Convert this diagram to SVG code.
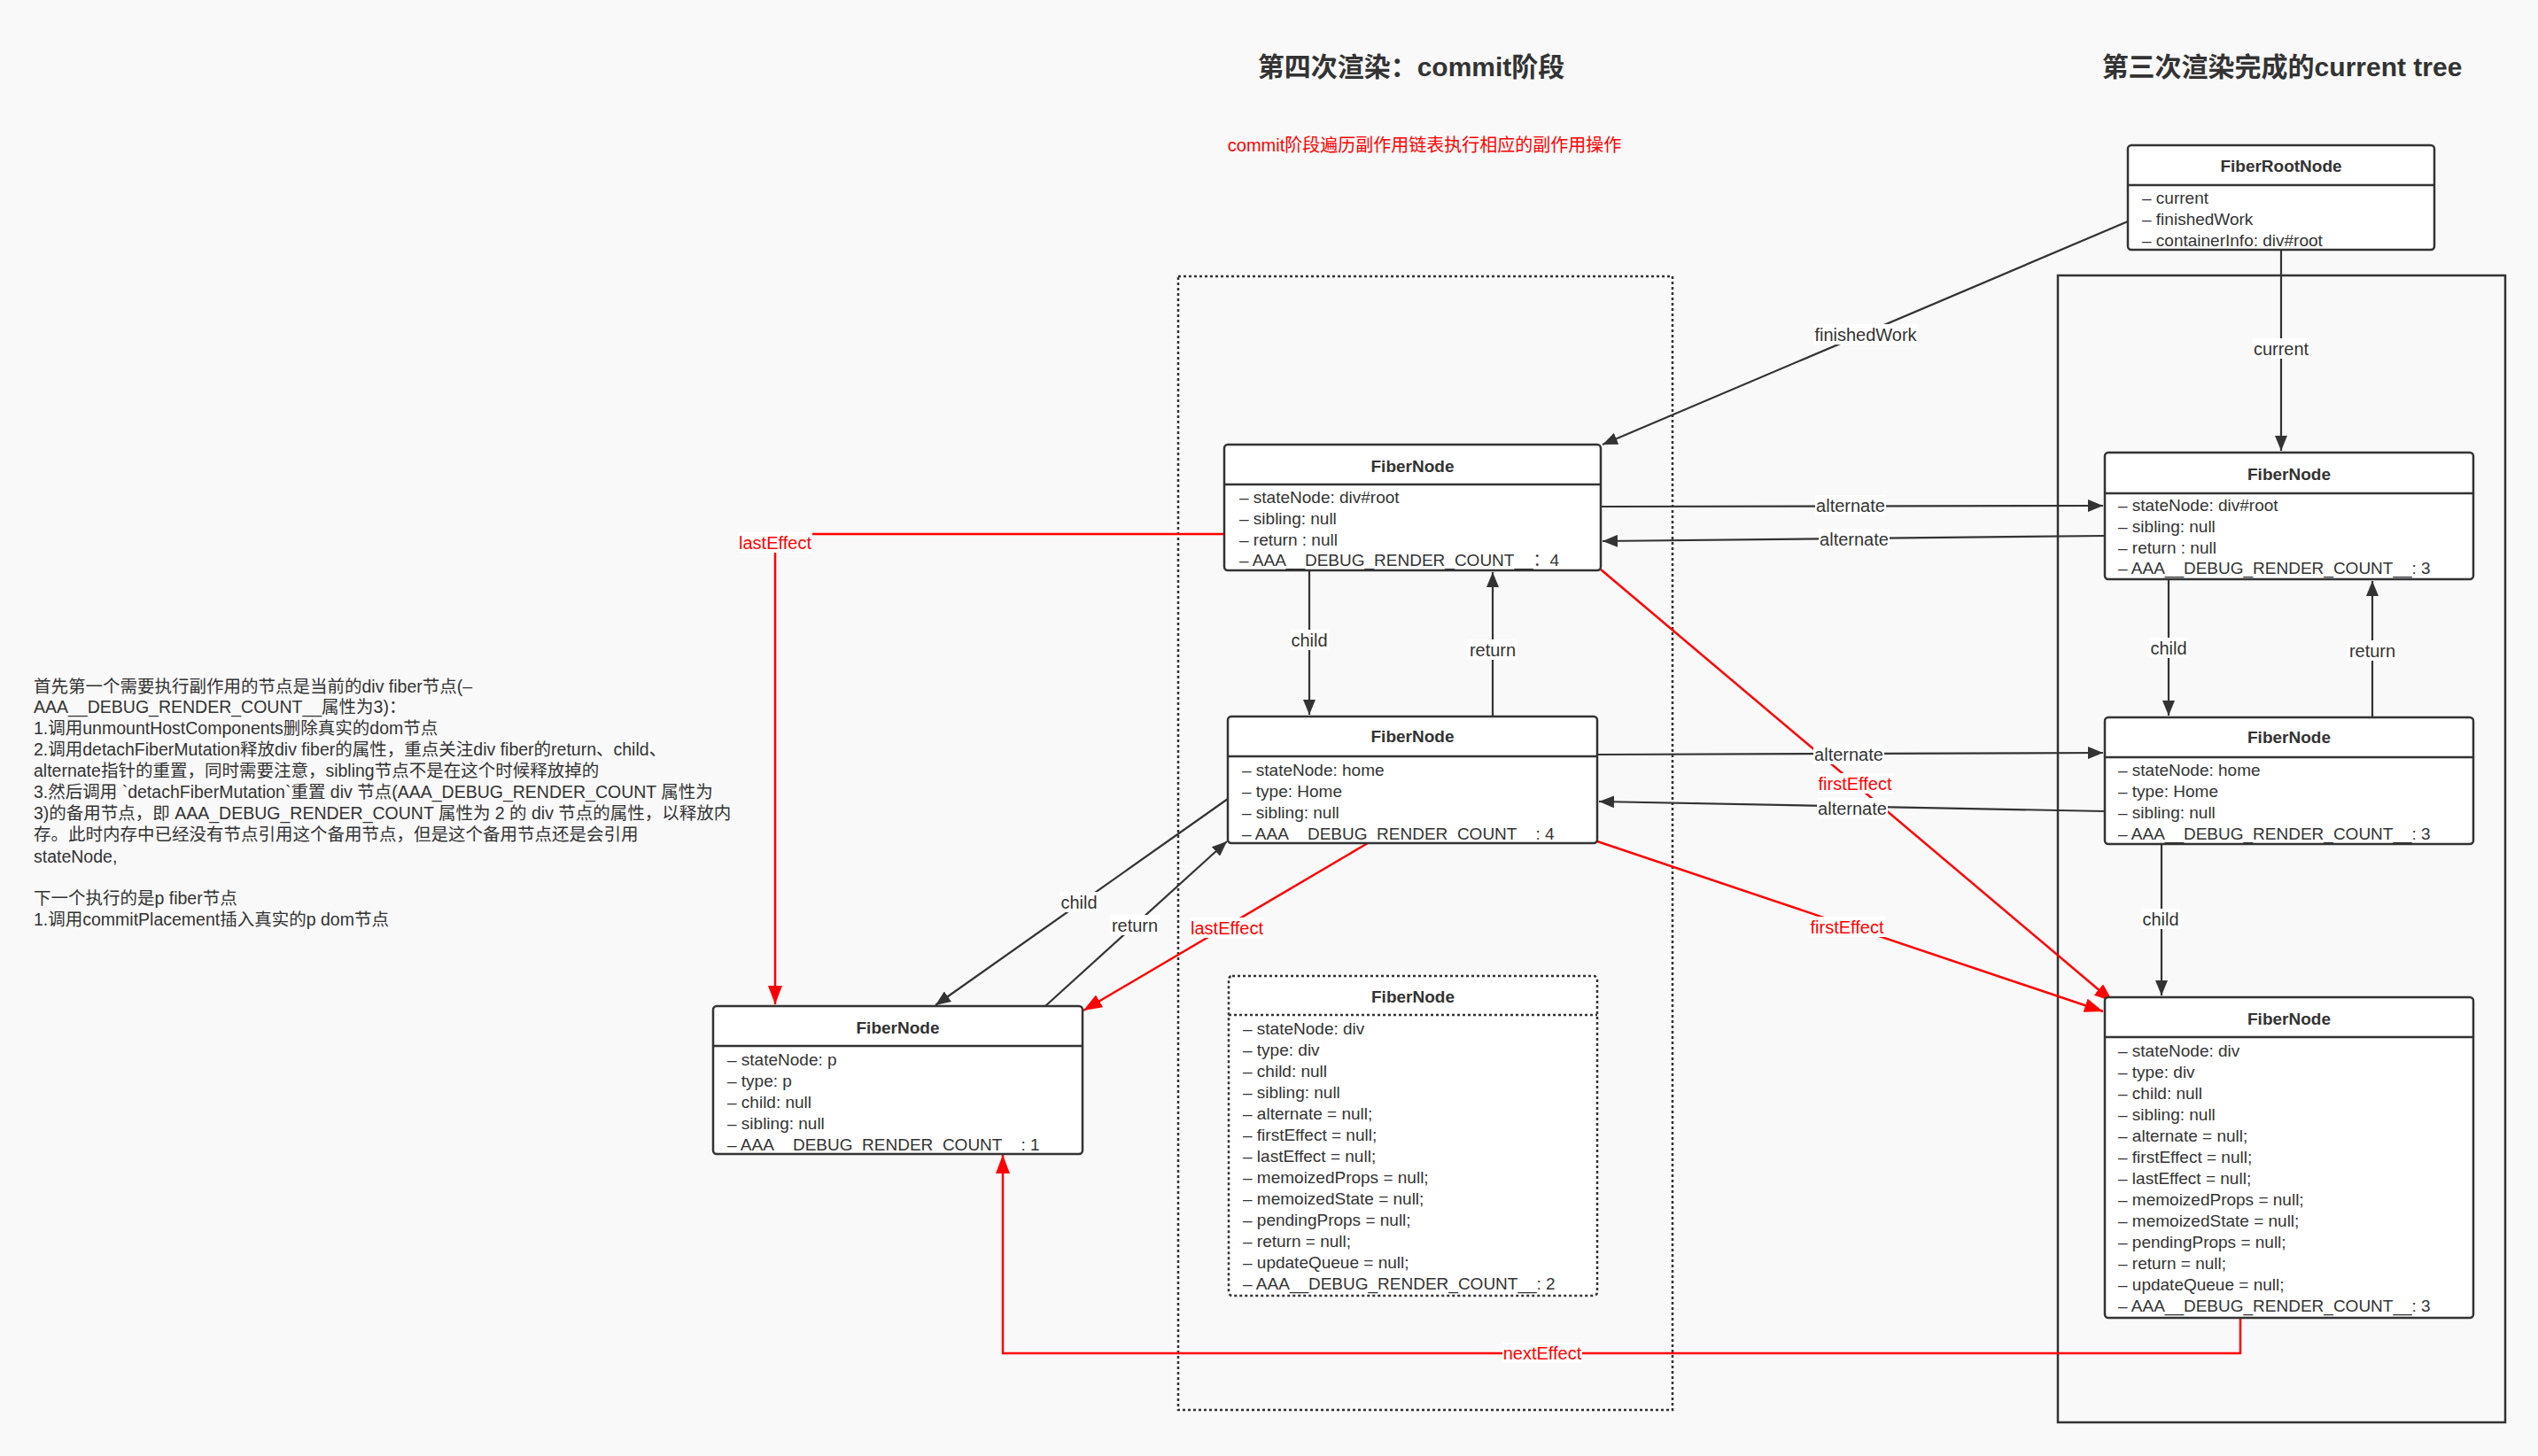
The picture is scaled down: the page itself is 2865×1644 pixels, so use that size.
<svg xmlns="http://www.w3.org/2000/svg" width="2865" height="1644" viewBox="0 0 2865 1644">
<style>
text{font-family:"Liberation Sans","Noto Sans CJK SC",sans-serif;font-size:19px;fill:#333}
.title{font-size:30px;font-weight:bold;text-anchor:middle}
.red{fill:#ff0000}
.note{font-size:20px}
.para text{font-size:19.5px}
.hd{font-weight:bold;text-anchor:middle}
.box{fill:#fff;stroke:#333;stroke-width:2.5}
.dbox{fill:#fff;stroke:#333;stroke-width:2.5;stroke-dasharray:3 3}
.div{stroke:#333;stroke-width:2.5}
.ddiv{stroke:#333;stroke-width:2.5;stroke-dasharray:3 3}
.edge{fill:none;stroke:#333;stroke-width:2.2}
.redge{fill:none;stroke:#ff0000;stroke-width:2.5}
.lb{fill:#fff}
.lt{text-anchor:middle;font-size:20px}
</style>
<defs>
<marker id="ab" markerUnits="userSpaceOnUse" markerWidth="18" markerHeight="14" refX="17" refY="7" orient="auto"><path d="M0,0 L17,7 L0,14 z" fill="#333"/></marker>
<marker id="ar" markerUnits="userSpaceOnUse" markerWidth="22" markerHeight="16" refX="21" refY="8" orient="auto"><path d="M0,0 L21,8 L0,16 z" fill="#ff0000"/></marker>
</defs>
<rect width="2865" height="1644" fill="#f9f9f9"/>

<g id="headings">
<text class="title" x="1593" y="86">第四次渲染：commit阶段</text>
<text class="title" x="2576" y="86">第三次渲染完成的current tree</text>
<text class="red note" x="1608" y="171" text-anchor="middle">commit阶段遍历副作用链表执行相应的副作用操作</text>
</g>

<g id="explanation" class="para">
<text x="38" y="782">首先第一个需要执行副作用的节点是当前的div fiber节点(–</text>
<text x="38" y="805">AAA__DEBUG_RENDER_COUNT__属性为3)：</text>
<text x="38" y="829">1.调用unmountHostComponents删除真实的dom节点</text>
<text x="38" y="853">2.调用detachFiberMutation释放div fiber的属性，重点关注div fiber的return、child、</text>
<text x="38" y="877">alternate指针的重置，同时需要注意，sibling节点不是在这个时候释放掉的</text>
<text x="38" y="901">3.然后调用 `detachFiberMutation`重置 div 节点(AAA_DEBUG_RENDER_COUNT 属性为</text>
<text x="38" y="925">3)的备用节点，即 AAA_DEBUG_RENDER_COUNT 属性为 2 的 div 节点的属性，以释放内</text>
<text x="38" y="949">存。此时内存中已经没有节点引用这个备用节点，但是这个备用节点还是会引用</text>
<text x="38" y="974">stateNode,</text>
<text x="38" y="1021">下一个执行的是p fiber节点</text>
<text x="38" y="1045">1.调用commitPlacement插入真实的p dom节点</text>
</g>

<g id="container-commit">
<rect x="1330" y="312" width="558" height="1280" fill="none" stroke="#333" stroke-width="2.5" stroke-dasharray="3 3"/>
</g>
<g id="container-current">
<rect x="2323" y="311" width="505" height="1295" fill="none" stroke="#333" stroke-width="2.5"/>
</g>

<g id="connectors">
<line class="edge" x1="2402" y1="250" x2="1809" y2="502" marker-end="url(#ab)"/>
<line class="edge" x1="2575" y1="282" x2="2575" y2="509" marker-end="url(#ab)"/>
<line class="edge" x1="1807" y1="572" x2="2374" y2="571" marker-end="url(#ab)"/>
<line class="edge" x1="2376" y1="605" x2="1809" y2="611" marker-end="url(#ab)"/>
<line class="edge" x1="1478" y1="644" x2="1478" y2="807" marker-end="url(#ab)"/>
<line class="edge" x1="1685" y1="809" x2="1685" y2="646" marker-end="url(#ab)"/>
<line class="edge" x1="2448" y1="654" x2="2448" y2="808" marker-end="url(#ab)"/>
<line class="edge" x1="2678" y1="810" x2="2678" y2="656" marker-end="url(#ab)"/>
<line class="edge" x1="1803" y1="852" x2="2374" y2="850" marker-end="url(#ab)"/>
<line class="edge" x1="2376" y1="916" x2="1805" y2="905" marker-end="url(#ab)"/>
<line class="edge" x1="2440" y1="953" x2="2440" y2="1124" marker-end="url(#ab)"/>
<line class="edge" x1="1386" y1="902" x2="1056" y2="1135" marker-end="url(#ab)"/>
<line class="edge" x1="1180" y1="1136" x2="1385" y2="950" marker-end="url(#ab)"/>
<path class="redge" d="M1382,603 H875 V1134" marker-end="url(#ar)"/>
<line class="redge" x1="1807" y1="643" x2="2385" y2="1131" marker-end="url(#ar)"/>
<line class="redge" x1="1544" y1="952" x2="1223" y2="1141" marker-end="url(#ar)"/>
<line class="redge" x1="1803" y1="950" x2="2374" y2="1142" marker-end="url(#ar)"/>
<path class="redge" d="M2529,1488 V1528 H1132 V1304" marker-end="url(#ar)"/>
<rect class="lb" x="2047" y="366" width="118" height="23"/><text class="lt" x="2106" y="385">finishedWork</text>
<rect class="lb" x="2543" y="382" width="64" height="23"/><text class="lt" x="2575" y="401">current</text>
<rect class="lb" x="2049" y="559" width="80" height="23"/><text class="lt" x="2089" y="578">alternate</text>
<rect class="lb" x="2053" y="597" width="80" height="23"/><text class="lt" x="2093" y="616">alternate</text>
<rect class="lb" x="1456" y="711" width="44" height="23"/><text class="lt" x="1478" y="730">child</text>
<rect class="lb" x="1657" y="722" width="56" height="23"/><text class="lt" x="1685" y="741">return</text>
<rect class="lb" x="2426" y="720" width="44" height="23"/><text class="lt" x="2448" y="739">child</text>
<rect class="lb" x="2650" y="723" width="56" height="23"/><text class="lt" x="2678" y="742">return</text>
<rect class="lb" x="2417" y="1026" width="44" height="23"/><text class="lt" x="2439" y="1045">child</text>
<rect class="lb" x="1196" y="1007" width="44" height="23"/><text class="lt" x="1218" y="1026">child</text>
<rect class="lb" x="1253" y="1033" width="56" height="23"/><text class="lt" x="1281" y="1052">return</text>
<rect class="lb" x="2047" y="840" width="80" height="23"/><text class="lt" x="2087" y="859">alternate</text>
<rect class="lb" x="2052" y="873" width="86" height="23"/><text class="lt red" x="2094" y="892">firstEffect</text>
<rect class="lb" x="2051" y="901" width="80" height="23"/><text class="lt" x="2091" y="920">alternate</text>
<rect class="lb" x="833" y="601" width="84" height="23"/><text class="lt red" x="875" y="620">lastEffect</text>
<rect class="lb" x="1343" y="1036" width="84" height="23"/><text class="lt red" x="1385" y="1055">lastEffect</text>
<rect class="lb" x="2042" y="1035" width="86" height="23"/><text class="lt red" x="2085" y="1054">firstEffect</text>
<rect class="lb" x="1696" y="1516" width="90" height="23"/><text class="lt red" x="1741" y="1535">nextEffect</text>
</g>

<g id="fiber-root-node">
<rect class="box" x="2402" y="164" width="346" height="118" rx="4"/>
<line class="div" x1="2402" y1="209" x2="2748" y2="209"/>
<text class="hd" x="2575" y="194">FiberRootNode</text>
<text x="2418" y="230">– current</text>
<text x="2418" y="254">– finishedWork</text>
<text x="2418" y="278">– containerInfo: div#root</text>
</g>

<g id="wip-root">
<rect class="box" x="1382" y="502" width="425" height="142" rx="4"/>
<line class="div" x1="1382" y1="547" x2="1807" y2="547"/>
<text class="hd" x="1594.5" y="533">FiberNode</text>
<text x="1399" y="568">– stateNode: div#root</text>
<text x="1399" y="592">– sibling: null</text>
<text x="1399" y="616">– return : null</text>
<text x="1399" y="639">– AAA__DEBUG_RENDER_COUNT__：4</text>
</g>

<g id="wip-home">
<rect class="box" x="1386" y="809" width="417" height="143" rx="4"/>
<line class="div" x1="1386" y1="854" x2="1803" y2="854"/>
<text class="hd" x="1594.5" y="838">FiberNode</text>
<text x="1402" y="876">– stateNode: home</text>
<text x="1402" y="900">– type: Home</text>
<text x="1402" y="924">– sibling: null</text>
<text x="1402" y="948">– AAA__DEBUG_RENDER_COUNT__: 4</text>
</g>

<g id="wip-p">
<rect class="box" x="805" y="1136" width="417" height="167" rx="4"/>
<line class="div" x1="805" y1="1181" x2="1222" y2="1181"/>
<text class="hd" x="1013.5" y="1167">FiberNode</text>
<text x="821" y="1203">– stateNode: p</text>
<text x="821" y="1227">– type: p</text>
<text x="821" y="1251">– child: null</text>
<text x="821" y="1275">– sibling: null</text>
<text x="821" y="1299">– AAA__DEBUG_RENDER_COUNT__: 1</text>
</g>

<g id="detached-div">
<rect class="dbox" x="1387" y="1102" width="416" height="361" rx="4"/>
<line class="ddiv" x1="1387" y1="1146" x2="1803" y2="1146"/>
<text class="hd" x="1595" y="1132">FiberNode</text>
<text x="1403" y="1168">– stateNode: div</text>
<text x="1403" y="1192">– type: div</text>
<text x="1403" y="1216">– child: null</text>
<text x="1403" y="1240">– sibling: null</text>
<text x="1403" y="1264">– alternate = null;</text>
<text x="1403" y="1288">– firstEffect = null;</text>
<text x="1403" y="1312">– lastEffect = null;</text>
<text x="1403" y="1336">– memoizedProps = null;</text>
<text x="1403" y="1360">– memoizedState = null;</text>
<text x="1403" y="1384">– pendingProps = null;</text>
<text x="1403" y="1408">– return = null;</text>
<text x="1403" y="1432">– updateQueue = null;</text>
<text x="1403" y="1456">– AAA__DEBUG_RENDER_COUNT__: 2</text>
</g>

<g id="current-root">
<rect class="box" x="2376" y="511" width="416" height="143" rx="4"/>
<line class="div" x1="2376" y1="557" x2="2792" y2="557"/>
<text class="hd" x="2584" y="542">FiberNode</text>
<text x="2391" y="577">– stateNode: div#root</text>
<text x="2391" y="601">– sibling: null</text>
<text x="2391" y="625">– return : null</text>
<text x="2391" y="648">– AAA__DEBUG_RENDER_COUNT__: 3</text>
</g>

<g id="current-home">
<rect class="box" x="2376" y="810" width="416" height="143" rx="4"/>
<line class="div" x1="2376" y1="855" x2="2792" y2="855"/>
<text class="hd" x="2584" y="839">FiberNode</text>
<text x="2391" y="876">– stateNode: home</text>
<text x="2391" y="900">– type: Home</text>
<text x="2391" y="924">– sibling: null</text>
<text x="2391" y="948">– AAA__DEBUG_RENDER_COUNT__: 3</text>
</g>

<g id="current-div">
<rect class="box" x="2376" y="1126" width="416" height="362" rx="4"/>
<line class="div" x1="2376" y1="1171" x2="2792" y2="1171"/>
<text class="hd" x="2584" y="1157">FiberNode</text>
<text x="2391" y="1193">– stateNode: div</text>
<text x="2391" y="1217">– type: div</text>
<text x="2391" y="1241">– child: null</text>
<text x="2391" y="1265">– sibling: null</text>
<text x="2391" y="1289">– alternate = null;</text>
<text x="2391" y="1313">– firstEffect = null;</text>
<text x="2391" y="1337">– lastEffect = null;</text>
<text x="2391" y="1361">– memoizedProps = null;</text>
<text x="2391" y="1385">– memoizedState = null;</text>
<text x="2391" y="1409">– pendingProps = null;</text>
<text x="2391" y="1433">– return = null;</text>
<text x="2391" y="1457">– updateQueue = null;</text>
<text x="2391" y="1481">– AAA__DEBUG_RENDER_COUNT__: 3</text>
</g>
</svg>
